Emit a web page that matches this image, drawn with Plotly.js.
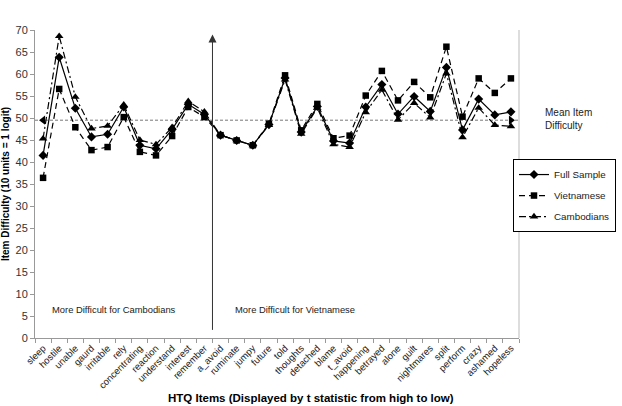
<!DOCTYPE html>
<html>
<head>
<meta charset="utf-8">
<script src="https://cdn.plot.ly/plotly-3.0.1.min.js"></script>
<style>html,body{margin:0;padding:0;background:#fff;}#chart{width:622px;height:406px;}</style>
</head>
<body>
<div id="chart"></div>
<script>
const items = ["sleep","hostile","unable","gaurd","irritable","rely","concentrating","reaction","understand","interest","remember","a_avoid","ruminate","jumpy","future","told","thoughts","detached","blame","t_avoid","happening","betrayed","alone","guilt","nightmares","split","perform","crazy","ashamed","hopeless"];
const fullSample = [41.5,63.8,52.2,45.7,46.3,52.5,43.8,43.0,47.4,53.1,50.8,46.1,44.9,43.8,48.5,59.1,46.8,52.6,44.8,44.3,52.5,57.6,50.9,54.9,51.5,61.5,47.3,54.3,50.7,51.4];
const vietnamese = [36.4,56.6,47.9,42.7,43.4,50.2,42.3,41.5,45.9,52.5,50.2,46.1,44.9,43.8,48.7,59.7,47.2,53.2,45.4,46.0,55.1,60.7,54.0,58.2,54.7,66.2,50.3,59.0,55.7,59.0];
const cambodians = [45.3,68.6,54.8,47.6,48.2,53.0,45.0,44.0,47.9,53.8,51.4,46.1,44.9,43.8,48.4,58.7,46.4,52.3,44.0,43.4,51.3,56.4,49.6,53.4,50.1,60.1,45.6,52.3,48.4,48.1];
const meanDifficulty = 49.5;
const seriesNames = ["Full Sample","Vietnamese","Cambodians"];
const yTicks = [0,5,10,15,20,25,30,35,40,45,50,55,60,65,70];
const dividerPos = 10.5;   // between "remember" and "a_avoid"
const dividerRange = [1.5, 69];

const font = "Liberation Sans, Arial, sans-serif";
const traces = [
  {x: items, y: fullSample, name: seriesNames[0], type: 'scatter', mode: 'lines+markers', legendgroup: 'a',
   line: {color: '#000', width: 1.2}, marker: {symbol: 'diamond', size: 7, color: '#000'}},
  {x: items, y: vietnamese, name: seriesNames[1], type: 'scatter', mode: 'lines+markers', legendgroup: 'b',
   line: {color: '#000', width: 1.2, dash: '6px,4px'}, marker: {symbol: 'square', size: 6.5, color: '#000'}},
  {x: items, y: cambodians, name: seriesNames[2], type: 'scatter', mode: 'lines+markers', legendgroup: 'c',
   line: {color: '#000', width: 1.2, dash: '7px,3px,2px,3px'}, marker: {symbol: 'triangle-up', size: 7.5, color: '#000'}},
  {x: [items[0], items[items.length-1]], y: [meanDifficulty, meanDifficulty], type: 'scatter', mode: 'markers',
   showlegend: false, hoverinfo: 'skip',
   marker: {symbol: ['triangle-left','triangle-right'], size: 8, color: '#000'}}
];

const layout = {
  width: 622, height: 406,
  margin: {l: 35, r: 103, t: 30, b: 68, autoexpand: false},
  paper_bgcolor: '#fff', plot_bgcolor: '#fff',
  font: {family: font, color: '#222', size: 10},
  showlegend: true,
  legend: {x: 0.9876, xanchor: 'left', y: 0.581, yanchor: 'top', bordercolor: '#000', borderwidth: 1,
           font: {family: font, size: 9.8, color: '#222'}, tracegroupgap: 2, bgcolor: '#fff'},
  xaxis: {type: 'category', range: [-0.5, 29.5], showgrid: false, zeroline: false,
          showline: true, linecolor: '#999', linewidth: 1, mirror: false,
          ticks: 'outside', tickson: 'boundaries', ticklen: 4, tickcolor: '#999',
          tickangle: -45, tickfont: {family: font, size: 9.5, color: '#222'},
          title: {text: ''}},
  yaxis: {range: [0, 70], tickvals: yTicks, showgrid: false, zeroline: false,
          showline: true, linecolor: '#999', linewidth: 1,
          ticks: 'outside', ticklen: 4, tickcolor: '#999',
          tickfont: {family: font, size: 11, color: '#333'},
          title: {text: 'Item Difficulty (10 units = 1 logit)', font: {family: font, size: 10, color: '#000', weight: 'bold'}, standoff: 6}},
  shapes: [
    {type: 'line', xref: 'paper', x0: 0, x1: 1, yref: 'y', y0: meanDifficulty, y1: meanDifficulty,
     line: {color: '#777', width: 1, dash: '3px,2px'}, layer: 'below'},
    {type: 'line', xref: 'paper', x0: 1, x1: 1, yref: 'paper', y0: 0, y1: 1,
     line: {color: '#bbb', width: 1}}
  ],
  annotations: [
    {x: dividerPos, y: dividerRange[1], xref: 'x', yref: 'y', ax: dividerPos, ay: dividerRange[0], axref: 'x', ayref: 'y',
     text: '', showarrow: true, arrowhead: 2, arrowsize: 1.6, arrowwidth: 1, arrowcolor: '#333', standoff: 0},
    {x: 0.031, y: 0.094, xref: 'paper', yref: 'paper', xanchor: 'left', yanchor: 'middle', showarrow: false,
     text: 'More Difficult for Cambodians', font: {family: font, size: 9.4, color: '#222'}},
    {x: 0.409, y: 0.094, xref: 'paper', yref: 'paper', xanchor: 'left', yanchor: 'middle', showarrow: false,
     text: 'More Difficult for Vietnamese', font: {family: font, size: 9.4, color: '#222'}},
    {x: 1.0496, y: 0.712, xref: 'paper', yref: 'paper', xanchor: 'left', yanchor: 'middle', align: 'left', showarrow: false,
     text: 'Mean Item<br>Difficulty', font: {family: font, size: 10, color: '#222'}},
    {x: 0.570, y: -0.195, xref: 'paper', yref: 'paper', xanchor: 'center', yanchor: 'middle', showarrow: false,
     text: '<b>HTQ Items (Displayed by t statistic from high to low)</b>', font: {family: font, size: 11.5, color: '#000'}}
  ]
};

Plotly.newPlot('chart', traces, layout, {displayModeBar: false, staticPlot: true});
</script>
</body>
</html>
